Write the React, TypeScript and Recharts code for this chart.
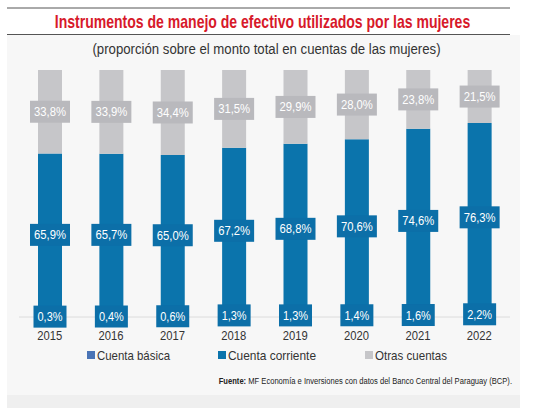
import { BarChart, Bar, XAxis, YAxis, LabelList, ReferenceLine } from 'recharts';

const years = ['2015', '2016', '2017', '2018', '2019', '2020', '2021', '2022'];
const cuentaBasica = [0.3, 0.4, 0.6, 1.3, 1.3, 1.4, 1.6, 2.2];
const cuentaCorriente = [65.9, 65.7, 65.0, 67.2, 68.8, 70.6, 74.6, 76.3];
const otrasCuentas = [33.8, 33.9, 34.4, 31.5, 29.9, 28.0, 23.8, 21.5];

const data = years.map((year, i) => ({
  year,
  basica: cuentaBasica[i],
  corriente: cuentaCorriente[i],
  otras: otrasCuentas[i],
}));

const FONT = '"Liberation Sans", Arial, sans-serif';
const BLUE = '#0b74ac';
const BLUE_BOX = '#0c6fa8';
const BASICA = '#4a74b6';
const GRAY = '#c6c6c9';
const GRAY_BOX = '#b9b9bd';

const fmt = (v: number) => v.toFixed(1).replace('.', ',') + '%';

// the source squeezes its text horizontally, so widths are fixed per character
const boxLabel = (fill: string) => (props: any) => {
  const { x, y, width, height, value } = props;
  const txt = fmt(Number(value));
  const tw = txt.length * 7 - 3;
  const bw = tw + 8;
  const cx = Number(x) + Number(width) / 2;
  const cy = Number(y) + Number(height) / 2;
  return (
    <g>
      <rect x={cx - bw / 2} y={cy - 11} width={bw} height={22} fill={fill} />
      <text
        x={cx - tw / 2}
        y={cy + 4.5}
        fill="#ffffff"
        fontSize={12.5}
        fontFamily={FONT}
        textLength={tw}
        lengthAdjust="spacingAndGlyphs"
      >
        {txt}
      </text>
    </g>
  );
};

const YearTick = (props: any) => {
  const { x, y, payload } = props;
  return (
    <text
      x={x - 12.5}
      y={y + 15}
      fill="#333"
      fontSize={13}
      fontFamily={FONT}
      textLength={25}
      lengthAdjust="spacingAndGlyphs"
    >
      {payload.value}
    </text>
  );
};

const legendItems = [
  { label: 'Cuenta básica', color: BASICA, x: 87, w: 73 },
  { label: 'Cuenta corriente', color: BLUE, x: 218, w: 88 },
  { label: 'Otras cuentas', color: GRAY, x: 365, w: 72 },
];

const App = () => {
  return (
    <div style={{ position: 'absolute', left: 0, top: 0, width: 534, height: 408, background: '#fff', overflow: 'hidden' }}>
      <div style={{ position: 'absolute', left: 7, top: 35, width: 513, height: 360, background: '#f7f7f7' }} />
      <div style={{ position: 'absolute', left: 7, top: 395, width: 513, height: 13, background: '#efefef' }} />

      <svg width={534} height={408} style={{ position: 'absolute', left: 0, top: 0 }}>
        <line x1={7} x2={510} y1={8} y2={8} stroke="#555" strokeWidth={1} />
        <line x1={7} x2={510} y1={34.5} y2={34.5} stroke="#555" strokeWidth={1} />
        <g transform="translate(262.5,28) scale(0.78,1)">
          <text x={0} y={0} textAnchor="middle" fill="#d7192a" fontSize={18} fontWeight="bold" fontFamily={FONT}>
            Instrumentos de manejo de efectivo utilizados por las mujeres
          </text>
        </g>
        <g transform="translate(266.5,54) scale(0.88,1)">
          <text x={0} y={0} textAnchor="middle" fill="#333" fontSize={15} fontFamily={FONT}>
            (proporción sobre el monto total en cuentas de las mujeres)
          </text>
        </g>
        <g transform="translate(512,384) scale(0.8,1)">
          <text x={0} y={0} textAnchor="end" fill="#222" fontSize={9.5} fontFamily={FONT}>
            <tspan fontWeight="bold">Fuente:</tspan> MF Economía e Inversiones con datos del Banco Central del Paraguay (BCP).
          </text>
        </g>
        {legendItems.map((item) => (
          <g key={item.label}>
            <rect x={item.x} y={351} width={8} height={8} fill={item.color} />
            <text
              x={item.x + 10}
              y={360}
              fill="#333"
              fontSize={13.5}
              fontFamily={FONT}
              textLength={item.w}
              lengthAdjust="spacingAndGlyphs"
            >
              {item.label}
            </text>
          </g>
        ))}
      </svg>

      <div style={{ position: 'absolute', left: 0, top: 0 }}>
        <BarChart width={534} height={350} data={data} margin={{ top: 70, right: 24, left: 19, bottom: 8 }}>
          <XAxis dataKey="year" axisLine={false} tickLine={false} height={25} tick={<YearTick />} interval={0} />
          <YAxis hide domain={[0, 100]} />
          <ReferenceLine y={0} stroke="#dcdcdc" />
          <Bar dataKey="basica" stackId="a" fill={BASICA} barSize={24} isAnimationActive={false}>
            <LabelList dataKey="basica" content={boxLabel(BLUE_BOX)} />
          </Bar>
          <Bar dataKey="corriente" stackId="a" fill={BLUE} barSize={24} isAnimationActive={false}>
            <LabelList dataKey="corriente" content={boxLabel(BLUE_BOX)} />
          </Bar>
          <Bar dataKey="otras" stackId="a" fill={GRAY} barSize={24} isAnimationActive={false}>
            <LabelList dataKey="otras" content={boxLabel(GRAY_BOX)} />
          </Bar>
        </BarChart>
      </div>
    </div>
  );
};

export default App;
